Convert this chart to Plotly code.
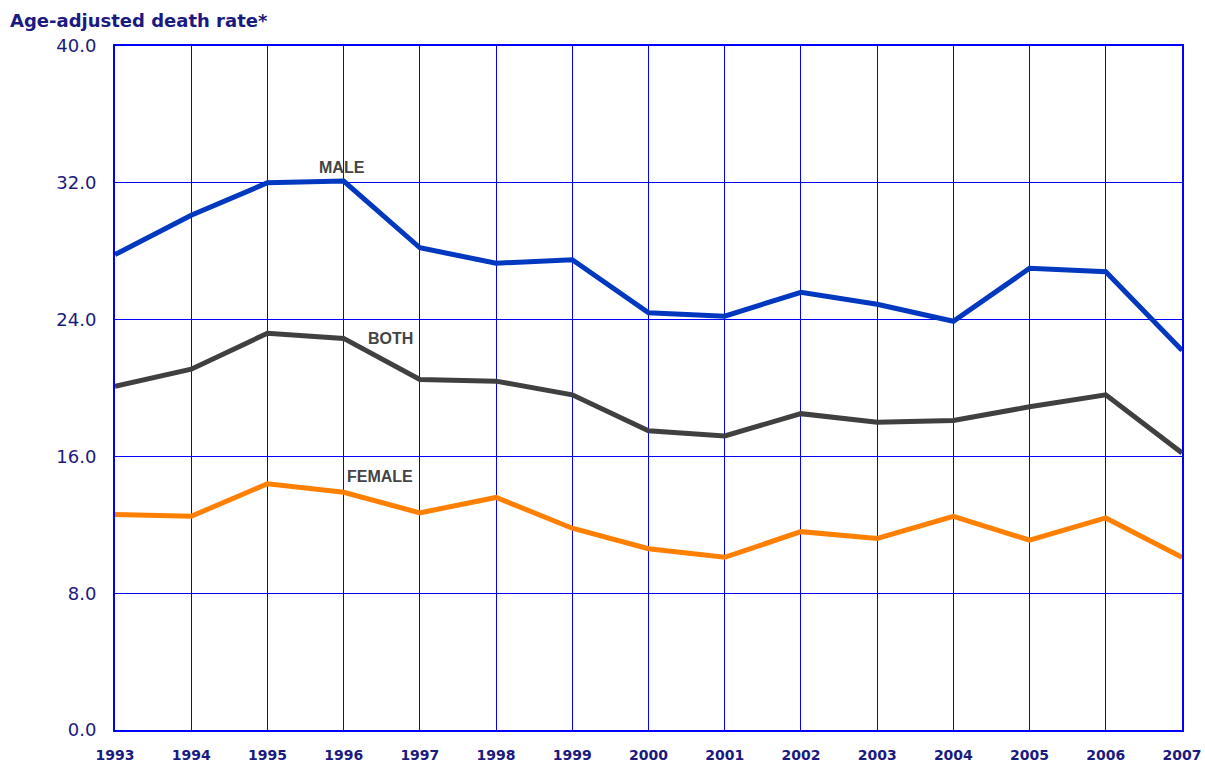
import plotly.graph_objects as go

years = list(range(1993, 2008))
male = [27.8, 30.1, 32.0, 32.1, 28.2, 27.3, 27.5, 24.4, 24.2, 25.6, 24.9, 23.9, 27.0, 26.8, 22.2]
both = [20.1, 21.1, 23.2, 22.9, 20.5, 20.4, 19.6, 17.5, 17.2, 18.5, 18.0, 18.1, 18.9, 19.6, 16.2]
female = [12.6, 12.5, 14.4, 13.9, 12.7, 13.6, 11.8, 10.6, 10.1, 11.6, 11.2, 12.5, 11.1, 12.4, 10.1]

y_ticks = [0, 8, 16, 24, 32, 40]
navy = '#1a1a80'
grid_blue = '#0000ff'

fig = go.Figure()

for vals, color in [(male, '#0038c0'), (both, '#404040'), (female, '#ff8000')]:
    fig.add_trace(go.Scatter(
        x=years, y=vals, mode='lines',
        line=dict(color=color, width=5),
        hoverinfo='skip', showlegend=False, cliponaxis=False
    ))

# series labels
for txt, xx, yy in [('MALE', 1995.98, 32.9), ('BOTH', 1996.62, 22.9), ('FEMALE', 1996.48, 14.8)]:
    fig.add_annotation(
        x=xx, y=yy, text=f'<b>{txt}</b>', showarrow=False,
        font=dict(family='Liberation Sans, Arial, sans-serif', size=16, color='#444444')
    )

fig.add_annotation(
    x=0, y=1, xref='paper', yref='paper', xshift=-107, yshift=26,
    xanchor='left', yanchor='middle', showarrow=False,
    text='<b>Age-adjusted death rate*</b>',
    font=dict(family='DejaVu Sans, Verdana, sans-serif', size=18, color=navy)
)

fig.update_xaxes(
    range=[1993, 2007], tickmode='array', tickvals=years,
    ticktext=[f'<b>{y}</b>' for y in years],
    tickfont=dict(family='DejaVu Sans, Verdana, sans-serif', size=14, color=navy),
    showgrid=True, gridcolor=grid_blue, gridwidth=1,
    showline=True, linecolor=grid_blue, linewidth=2, mirror=True,
    zeroline=False, ticks='', ticklabelstandoff=11, automargin=False
)
fig.update_yaxes(
    range=[0, 40], tickmode='array', tickvals=y_ticks,
    ticktext=[f'{v:.1f}' for v in y_ticks],
    tickfont=dict(family='DejaVu Sans, Verdana, sans-serif', size=18, color=navy),
    showgrid=True, gridcolor=grid_blue, gridwidth=1,
    showline=True, linecolor=grid_blue, linewidth=2, mirror=True,
    zeroline=False, ticks='', ticklabelstandoff=13, automargin=False
)

fig.update_layout(
    width=1205, height=765,
    margin=dict(l=115, r=23, t=46, b=35),
    plot_bgcolor='white', paper_bgcolor='white'
)

# drop the default body margin so the figure fills the window exactly
fig.write_html(
    "out.html",
    config={'displayModeBar': False},
    post_script="document.body.style.margin='0';document.body.style.overflow='hidden';"
)
